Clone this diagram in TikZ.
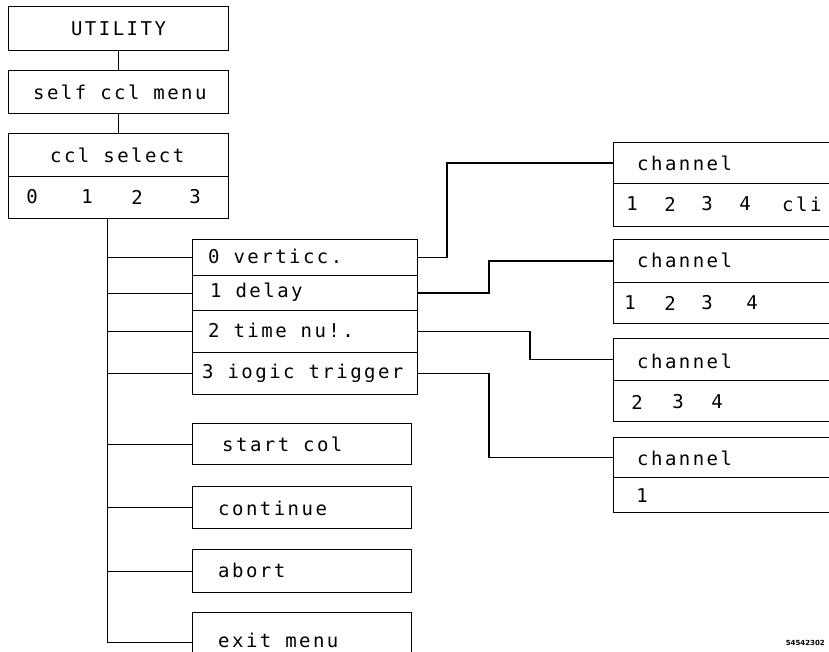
\documentclass[tikz,border=0pt]{standalone}
\usepackage{fontspec}
\newfontfamily\plotfont[LetterSpace=13]{DejaVu Sans Mono}
\newfontfamily\tagfont{DejaVu Sans}
\begin{document}
\begin{tikzpicture}[x=1pt,y=-1pt,
  box/.style={draw, line width=1.1pt, rectangle, inner sep=0pt, anchor=north west},
  txt/.style={font=\plotfont\fontsize{19}{19}\selectfont, inner sep=0pt, anchor=west},
  ctxt/.style={font=\plotfont\fontsize{19}{19}\selectfont, inner sep=0pt, anchor=center},
  link/.style={line width=1pt},
  conn/.style={line width=1.8pt}
]
\clip (0,0) rectangle (829,651);
\fill[white] (0,0) rectangle (829,651);

% top stack
\node[box, minimum width=220pt, minimum height=44pt] (util) at (8,6) {};
\node[ctxt] (tutil) at (util.center) {UTILITY};
\node[box, minimum width=220pt, minimum height=43pt] (selfm) at (8,70) {};
\node[txt] (tselfm) at (33,92) {self ccl menu};
\node[box, minimum width=220pt, minimum height=43pt] (sela) at (8,133) {};
\node[box, minimum width=220pt, minimum height=42pt] (selb) at (8,176) {};
\node[txt] (tsela) at (50,155) {ccl select};
\node[ctxt] (n0) at (32,197) {0};
\node[ctxt] (n1) at (87,197) {1};
\node[ctxt] (n2) at (137,197) {2};
\node[ctxt] (n3) at (195,197) {3};
\draw[link] (util.south) -- (selfm.north);
\draw[link] (selfm.south) -- (sela.north);

% middle menu box
\node[box, minimum width=225pt, minimum height=36pt] (r0) at (192,239) {};
\node[box, minimum width=225pt, minimum height=35pt] (r1) at (192,275) {};
\node[box, minimum width=225pt, minimum height=42pt] (r2) at (192,310) {};
\node[box, minimum width=225pt, minimum height=42pt] (r3) at (192,352) {};
\node[txt] (tr0) at (208,256) {0 verticc.};
\node[txt] (tr1) at (210,292) {1 delay};
\node[txt] (tr2) at (208,330) {2 time nu!.};
\node[txt] (tr3) at (202,373) {3 iogic trigger};

% lower boxes
\node[box, minimum width=219pt, minimum height=41pt] (bstart) at (192,423) {};
\node[box, minimum width=219pt, minimum height=42pt] (bcont) at (192,486) {};
\node[box, minimum width=219pt, minimum height=43pt] (babort) at (192,549) {};
\node[box, minimum width=219pt, minimum height=60pt] (bexit) at (192,612) {};
\node[txt] (tstart) at (222,444) {start col};
\node[txt] (tcont) at (218,508) {continue};
\node[txt] (tabort) at (218,570) {abort};
\node[txt] (texit) at (218,640) {exit menu};

% trunk
\coordinate (ttop) at (selb.south -| 107,0);
\coordinate (tbot) at (107,642);
\draw[link] (ttop) -- (tbot);
\draw[link] (ttop |- r0.west) -- (r0.west);
\draw[link] (ttop |- r1.west) -- (r1.west);
\draw[link] (ttop |- r2.west) -- (r2.west);
\draw[link] (ttop |- r3.west) -- (r3.west);
\draw[link] (ttop |- bstart.west) -- (bstart.west);
\draw[link] (ttop |- bcont.west) -- (bcont.west);
\draw[link] (ttop |- babort.west) -- (babort.west);
\draw[link] (tbot) -- (tbot -| bexit.west);

% right channel boxes
\node[box, minimum width=230pt, minimum height=41pt] (c1a) at (613,142) {};
\node[box, minimum width=230pt, minimum height=43pt] (c1b) at (613,183) {};
\node[box, minimum width=230pt, minimum height=43pt] (c2a) at (613,239) {};
\node[box, minimum width=230pt, minimum height=41pt] (c2b) at (613,282) {};
\node[box, minimum width=230pt, minimum height=42pt] (c3a) at (613,338) {};
\node[box, minimum width=230pt, minimum height=41pt] (c3b) at (613,380) {};
\node[box, minimum width=230pt, minimum height=40pt] (c4a) at (613,437) {};
\node[box, minimum width=230pt, minimum height=35pt] (c4b) at (613,477) {};

\node[txt] (tc1) at (637,163) {channel};
\node[ctxt] (c1n1) at (632,204) {1};
\node[ctxt] (c1n2) at (670,204) {2};
\node[ctxt] (c1n3) at (707,204) {3};
\node[ctxt] (c1n4) at (745,204) {4};
\node[txt] (c1n5) at (782,204) {cli};
\node[txt] (tc2) at (637,260) {channel};
\node[ctxt] (c2n1) at (630,303) {1};
\node[ctxt] (c2n2) at (670,303) {2};
\node[ctxt] (c2n3) at (707,303) {3};
\node[ctxt] (c2n4) at (752,303) {4};
\node[txt] (tc3) at (637,361) {channel};
\node[ctxt] (c3n2) at (637,402) {2};
\node[ctxt] (c3n3) at (678,402) {3};
\node[ctxt] (c3n4) at (717,402) {4};
\node[txt] (tc4) at (637,458) {channel};
\node[ctxt] (c4n1) at (642,496) {1};

% connectors to channel boxes
\draw[conn] (r0.east) -- ++(29,0) |- (c1a.west);
\draw[conn] (r1.east) -- ++(71,0) |- (c2a.west);
\draw[conn] (r2.east) -- ++(112,0) |- (c3a.west);
\draw[conn] (r3.east) -- ++(71,0) |- (c4a.west);

\node[font=\tagfont\bfseries\fontsize{7}{7}\selectfont, inner sep=0pt, anchor=east] (tag) at (825,643) {54542302};
\end{tikzpicture}
\end{document}
